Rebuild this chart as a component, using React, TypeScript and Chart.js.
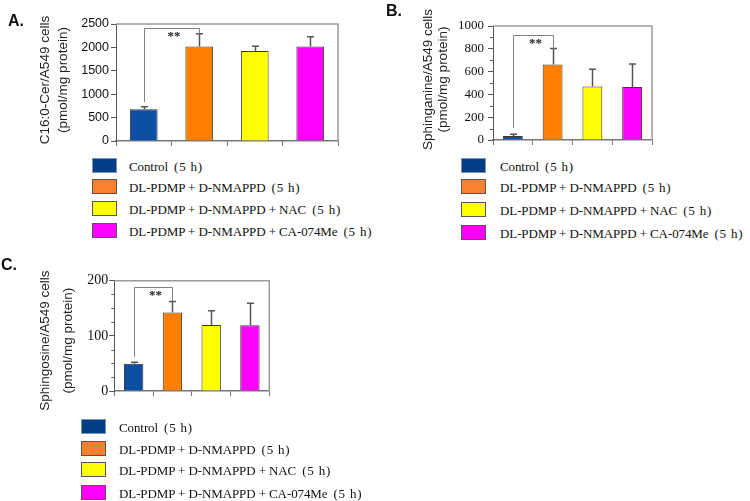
import React, { useEffect, useRef } from "react";
import { Chart, registerables } from "chart.js";

Chart.register(...registerables);

// ---------- data ----------
const categories = [
  "Control (5 h)",
  "DL-PDMP + D-NMAPPD (5 h)",
  "DL-PDMP + D-NMAPPD + NAC (5 h)",
  "DL-PDMP + D-NMAPPD + CA-074Me (5 h)",
];
const barColors = ["#0A4FA3", "#FF7F00", "#FFFF00", "#FF00FF"];
const legendColors = ["#003E86", "#F7812F", "#FFFF00", "#FF00FF"];

const cerValues = [680, 2020, 1925, 2020];
const cerErrors = [50, 270, 100, 210];
const cerTitle = ["C16:0-Cer/A549 cells", "(pmol/mg protein)"];

const sphinganineValues = [35, 662, 470, 466];
const sphinganineErrors = [15, 140, 150, 200];
const sphinganineTitle = ["Sphinganine/A549 cells", "(pmol/mg protein)"];

const sphingosineValues = [49.5, 142.5, 119.5, 119];
const sphingosineErrors = [2.5, 20, 26, 40];
const sphingosineTitle = ["Sphingosine/A549 cells", "(pmol/mg protein)"];

const significanceMark = "**";

type Panel = {
  label: string;
  values: number[];
  errors: number[];
  title: string[];
  max: number;
  step: number;
  minorStep: number;
  bracketTop: number;
  bracketStart: number;
};

const panels: Panel[] = [
  { label: "A.", values: cerValues, errors: cerErrors, title: cerTitle, max: 2500, step: 500, minorStep: 0, bracketTop: 2404, bracketStart: 830 },
  { label: "B.", values: sphinganineValues, errors: sphinganineErrors, title: sphinganineTitle, max: 1000, step: 200, minorStep: 100, bracketTop: 917, bracketStart: 105 },
  { label: "C.", values: sphingosineValues, errors: sphingosineErrors, title: sphingosineTitle, max: 200, step: 100, minorStep: 25, bracketTop: 188, bracketStart: 62 },
];

// ---------- layout ----------
type Layout = {
  left: number; top: number; w: number; h: number;
  padLeft: number; padRight: number; padTop: number; padBottom: number;
  yWidth: number; xHeight: number;
  titleX: number[]; titleY: number;
  tickFont: string; tickSize: number; tickPad: number;
  labelX: number; labelY: number;
  legendSwatchX: number; legendTextX: number; legendTops: number[];
};

const layouts: Layout[] = [
  { left: 0, top: 0, w: 375, h: 155, padLeft: 30, padRight: 37, padTop: 24, padBottom: 5, yWidth: 86, xHeight: 9,
    titleX: [45, 63], titleY: 80,
    tickFont: "'Liberation Sans', Arial, sans-serif", tickSize: 12.5, tickPad: 2,
    labelX: 8, labelY: 13, legendSwatchX: 92, legendTextX: 129, legendTops: [158, 179, 201, 223] },
  { left: 375, top: 0, w: 375, h: 155, padLeft: 40, padRight: 98, padTop: 26, padBottom: 5, yWidth: 78, xHeight: 10,
    titleX: [53.3, 68.3], titleY: 79.5,
    tickFont: "'Liberation Serif', serif", tickSize: 13, tickPad: 4,
    labelX: 386, labelY: 3, legendSwatchX: 461, legendTextX: 500, legendTops: [158, 179, 202, 225] },
  { left: 0, top: 255, w: 375, h: 165, padLeft: 30, padRight: 105.7, padTop: 25.7, padBottom: 20, yWidth: 84.3, xHeight: 9,
    titleX: [45, 68], titleY: 85.7,
    tickFont: "'Liberation Serif', serif", tickSize: 14, tickPad: 1,
    labelX: 1, labelY: 257, legendSwatchX: 81, legendTextX: 119, legendTops: [419, 441, 462, 485] },
];

// ---------- plugin ----------
const extrasPlugin = {
  id: "extras",
  afterDatasetsDraw(chart: any, _args: any, opts: any) {
    const { ctx, chartArea } = chart;
    const y = chart.scales.y;
    const meta = chart.getDatasetMeta(0);
    const data: number[] = chart.data.datasets[0].data;
    const errs: number[] = opts.errors;
    ctx.save();
    // frame top/right
    ctx.strokeStyle = "#9a9a9a";
    ctx.lineWidth = 1.5;
    ctx.beginPath();
    ctx.moveTo(chartArea.left, chartArea.top);
    ctx.lineTo(chartArea.right, chartArea.top);
    ctx.lineTo(chartArea.right, chartArea.bottom);
    ctx.stroke();
    // minor ticks
    if (opts.minorStep > 0) {
      ctx.strokeStyle = "#555";
      ctx.lineWidth = 1;
      ctx.beginPath();
      for (let v = opts.minorStep; v < opts.max; v += opts.minorStep) {
        if (v % opts.step === 0) continue;
        const py = Math.round(y.getPixelForValue(v)) + 0.5;
        ctx.moveTo(chartArea.left - 3, py);
        ctx.lineTo(chartArea.left, py);
      }
      ctx.stroke();
    }
    // error bars
    ctx.strokeStyle = "#555";
    ctx.lineWidth = 1.5;
    meta.data.forEach((bar: any, i: number) => {
      const base = y.getPixelForValue(data[i]);
      const top = y.getPixelForValue(data[i] + errs[i]);
      const x = Math.round(bar.x) + 0.5;
      ctx.beginPath();
      ctx.moveTo(x, base);
      ctx.lineTo(x, top);
      ctx.moveTo(x - 3.5, top);
      ctx.lineTo(x + 3.5, top);
      ctx.stroke();
    });
    // significance bracket
    const x0 = Math.round(meta.data[0].x) + 0.5;
    const x1 = Math.round(meta.data[1].x) + 0.5;
    const yTop = Math.round(y.getPixelForValue(opts.bracketTop)) + 0.5;
    ctx.strokeStyle = "#808080";
    ctx.lineWidth = 1;
    ctx.beginPath();
    ctx.moveTo(x0, y.getPixelForValue(opts.bracketStart));
    ctx.lineTo(x0, yTop);
    ctx.lineTo(x1, yTop);
    ctx.lineTo(x1, y.getPixelForValue(data[1] + errs[1]));
    ctx.stroke();
    ctx.fillStyle = "#222";
    ctx.font = "bold 13px 'Liberation Serif', serif";
    ctx.textAlign = "center";
    ctx.textBaseline = "top";
    ctx.fillText(opts.mark, (x0 + x1) / 2 + 2, yTop + 2);
    // y-axis title (two rotated lines)
    ctx.fillStyle = "#222";
    ctx.font = "13.5px 'Liberation Sans', Arial, sans-serif";
    ctx.textBaseline = "middle";
    ctx.textAlign = "center";
    opts.title.forEach((line: string, i: number) => {
      ctx.save();
      ctx.translate(opts.titleX[i], opts.titleY);
      ctx.rotate(-Math.PI / 2);
      ctx.fillText(line, 0, 0);
      ctx.restore();
    });
    ctx.restore();
  },
};

function LegendText({ text }: { text: string }) {
  const cut = text.lastIndexOf(" (");
  const main = cut >= 0 ? text.slice(0, cut) : text;
  const tail = cut >= 0 ? text.slice(cut + 1) : "";
  return (
    <span style={{ font: "13px 'Liberation Serif', serif", color: "#111", lineHeight: "15px" }}>
      <span style={{ letterSpacing: "-0.1px" }}>{main}</span>
      {tail ? <span style={{ marginLeft: 6, letterSpacing: "0.8px" }}>{tail}</span> : null}
    </span>
  );
}

function PanelChart({ panel, layout }: { panel: Panel; layout: Layout }) {
  const ref = useRef<HTMLCanvasElement | null>(null);
  useEffect(() => {
    if (!ref.current) return;
    const chart = new Chart(ref.current, {
      type: "bar",
      data: {
        labels: categories,
        datasets: [
          {
            data: panel.values,
            backgroundColor: barColors,
            borderColor: "#3a3a3a",
            borderWidth: 1,
            categoryPercentage: 1,
            barPercentage: 0.5,
          },
        ],
      },
      options: {
        animation: false,
        responsive: false,
        events: [],
        layout: { padding: { left: layout.padLeft, right: layout.padRight, top: layout.padTop, bottom: layout.padBottom } },
        plugins: {
          legend: { display: false },
          tooltip: { enabled: false },
          extras: {
            errors: panel.errors,
            minorStep: panel.minorStep,
            step: panel.step,
            max: panel.max,
            bracketTop: panel.bracketTop,
            bracketStart: panel.bracketStart,
            mark: significanceMark,
            title: panel.title,
            titleX: layout.titleX,
            titleY: layout.titleY,
          },
        } as any,
        scales: {
          x: {
            type: "category",
            offset: true,
            grid: { offset: true, drawOnChartArea: false, drawTicks: true, tickLength: 5, color: "#777" },
            border: { display: true, color: "#777", width: 1.5 },
            ticks: { display: false },
            afterFit: (s: any) => { s.height = layout.xHeight; },
          },
          y: {
            min: 0,
            max: panel.max,
            ticks: {
              stepSize: panel.step,
              color: "#111",
              padding: layout.tickPad,
              font: { family: layout.tickFont, size: layout.tickSize },
              callback: (v: any) => String(v),
            },
            grid: { drawOnChartArea: false, drawTicks: true, tickLength: 5, color: "#555" },
            border: { display: true, color: "#555", width: 1 },
            title: { display: false },
            afterFit: (s: any) => { s.width = layout.yWidth; },
          },
        },
      },
      plugins: [extrasPlugin as any],
    });
    return () => chart.destroy();
  }, [panel, layout]);

  return (
    <>
      <canvas
        ref={ref}
        width={layout.w}
        height={layout.h}
        style={{ position: "absolute", left: layout.left, top: layout.top, width: layout.w, height: layout.h, display: "block" }}
      />
      <div
        style={{
          position: "absolute", left: layout.labelX, top: layout.labelY,
          font: "bold 16px 'Liberation Sans', Arial, sans-serif", lineHeight: "16px", color: "#111",
        }}
      >
        {panel.label}
      </div>
      {categories.map((c, i) => (
        <div
          key={c}
          style={{
            position: "absolute", left: layout.legendSwatchX, top: layout.legendTops[i], height: 15,
            display: "flex", alignItems: "center", whiteSpace: "nowrap",
          }}
        >
          <div
            style={{
              width: 25, height: 15, boxSizing: "border-box", background: legendColors[i],
              border: i === 0 ? "1px solid #7f93b5" : "1px solid #555", flex: "none",
            }}
          />
          <div style={{ marginLeft: layout.legendTextX - layout.legendSwatchX - 25 }}>
            <LegendText text={c} />
          </div>
        </div>
      ))}
    </>
  );
}

export default function App() {
  return (
    <div style={{ position: "absolute", left: 0, top: 0, width: 750, height: 501, background: "#fff", overflow: "hidden" }}>
      {panels.map((p, i) => (
        <PanelChart key={p.label} panel={p} layout={layouts[i]} />
      ))}
    </div>
  );
}
